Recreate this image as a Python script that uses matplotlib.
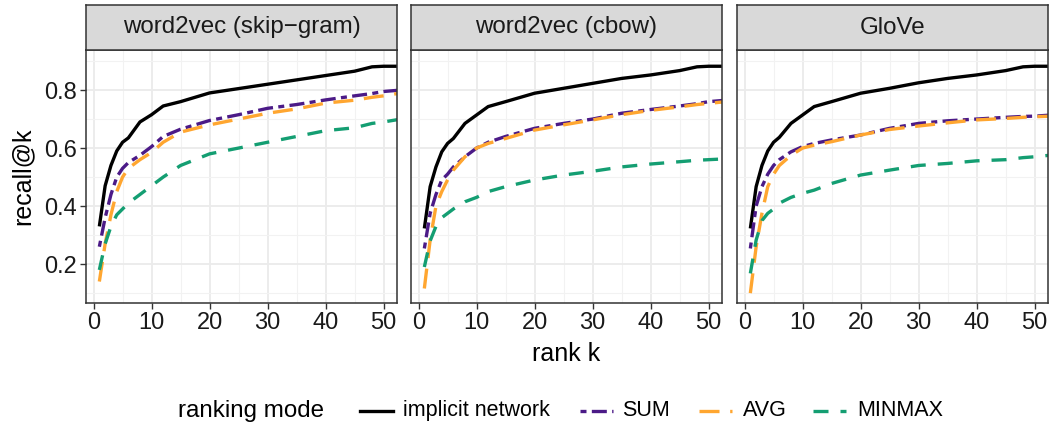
import numpy as np
import matplotlib
matplotlib.use("Agg")
import matplotlib.pyplot as plt
from matplotlib.lines import Line2D

plt.rcParams['font.family'] = ['Liberation Sans', 'DejaVu Sans']

panels = ["word2vec (skip\u2212gram)", "word2vec (cbow)", "GloVe"]
modes = ["implicit network", "SUM", "AVG", "MINMAX"]

k = [1, 2, 3, 4, 5, 6, 8, 10, 12, 15, 20, 25, 30, 35, 40, 45, 48, 50, 53]

# panel 1: word2vec (skip-gram)
sg_implicit = [0.33, 0.47, 0.54, 0.59, 0.62, 0.635, 0.69, 0.715, 0.745, 0.76, 0.79, 0.805, 0.82, 0.835, 0.85, 0.865, 0.88, 0.882, 0.882]
sg_sum      = [0.26, 0.36, 0.44, 0.50, 0.53, 0.55, 0.575, 0.605, 0.64, 0.665, 0.695, 0.715, 0.737, 0.75, 0.766, 0.78, 0.788, 0.795, 0.80]
sg_avg      = [0.14, 0.27, 0.37, 0.45, 0.50, 0.53, 0.56, 0.585, 0.62, 0.655, 0.68, 0.70, 0.72, 0.735, 0.755, 0.765, 0.775, 0.78, 0.79]
sg_minmax   = [0.18, 0.27, 0.33, 0.37, 0.39, 0.41, 0.44, 0.47, 0.50, 0.54, 0.58, 0.60, 0.62, 0.64, 0.66, 0.67, 0.685, 0.69, 0.70]

# panel 2: word2vec (cbow)
cb_implicit = [0.323, 0.467, 0.535, 0.587, 0.616, 0.633, 0.685, 0.714, 0.743, 0.76, 0.789, 0.806, 0.823, 0.84, 0.852, 0.867, 0.88, 0.882, 0.882]
cb_sum      = [0.254, 0.375, 0.44, 0.49, 0.51, 0.535, 0.57, 0.60, 0.62, 0.64, 0.668, 0.685, 0.70, 0.72, 0.733, 0.745, 0.753, 0.76, 0.765]
cb_avg      = [0.116, 0.283, 0.40, 0.45, 0.49, 0.524, 0.57, 0.60, 0.616, 0.633, 0.662, 0.68, 0.697, 0.715, 0.73, 0.742, 0.75, 0.754, 0.76]
cb_minmax   = [0.19, 0.28, 0.33, 0.36, 0.375, 0.39, 0.415, 0.43, 0.45, 0.467, 0.49, 0.507, 0.52, 0.535, 0.545, 0.553, 0.558, 0.56, 0.563]

# panel 3: GloVe
gl_implicit = [0.323, 0.467, 0.54, 0.59, 0.62, 0.637, 0.685, 0.714, 0.743, 0.76, 0.789, 0.806, 0.825, 0.84, 0.852, 0.867, 0.88, 0.882, 0.882]
gl_sum      = [0.254, 0.40, 0.467, 0.51, 0.54, 0.56, 0.587, 0.605, 0.616, 0.628, 0.645, 0.668, 0.685, 0.694, 0.70, 0.706, 0.709, 0.71, 0.714]
gl_avg      = [0.10, 0.26, 0.375, 0.467, 0.51, 0.54, 0.575, 0.60, 0.61, 0.622, 0.645, 0.664, 0.676, 0.687, 0.697, 0.702, 0.706, 0.708, 0.71]
gl_minmax   = [0.168, 0.283, 0.35, 0.375, 0.39, 0.41, 0.43, 0.444, 0.455, 0.478, 0.507, 0.524, 0.54, 0.547, 0.556, 0.56, 0.567, 0.57, 0.576]

data = [
    [sg_implicit, sg_sum, sg_avg, sg_minmax],
    [cb_implicit, cb_sum, cb_avg, cb_minmax],
    [gl_implicit, gl_sum, gl_avg, gl_minmax],
]

colors = ["#000000", "#4B1A87", "#FFA630", "#149E72"]
LW = 2.4
styles = ["-", (0, (1.8, 1.6, 4.5, 1.6)), (0, (6.0, 3.2)), (0, (4.5, 3.6))]

W, H = 1051, 425
fig = plt.figure(figsize=(W / 100, H / 100), dpi=100)

def px(x0, y0, x1, y1):
    return [x0 / W, 1 - y1 / H, (x1 - x0) / W, (y1 - y0) / H]

lefts = [86, 411, 737]
width = 311
border = "#333333"

for i, (name, series) in enumerate(zip(panels, data)):
    x0 = lefts[i]
    ax = fig.add_axes(px(x0, 50, x0 + width, 303))
    for vals, c, ls in zip(series, colors, styles):
        ax.plot(k, vals, color=c, lw=LW, linestyle=ls, solid_capstyle='butt',
                dash_capstyle='butt')
    ax.set_xlim(-1.3, 52.3)
    ax.set_ylim(0.066, 0.938)
    ax.set_xticks([0, 10, 20, 30, 40, 50])
    ax.set_xticks([5, 15, 25, 35, 45], minor=True)
    ax.set_yticks([0.2, 0.4, 0.6, 0.8])
    ax.set_yticks([0.1, 0.3, 0.5, 0.7, 0.9], minor=True)
    ax.grid(True, which='major', color='#EBEBEB', lw=1.3)
    ax.grid(True, which='minor', color='#F2F2F2', lw=0.8)
    ax.set_axisbelow(True)
    for s in ax.spines.values():
        s.set_color(border)
        s.set_linewidth(1.1)
    ax.tick_params(which='major', length=4, width=1.0, color=border,
                   labelsize=17, labelcolor='#1A1A1A', pad=2.5)
    ax.tick_params(which='minor', length=0)
    if i == 0:
        ax.set_yticklabels(["0.2", "0.4", "0.6", "0.8"])
    else:
        ax.tick_params(axis='y', which='both', length=0, labelleft=False)
    # strip
    sax = fig.add_axes(px(x0, 5, x0 + width, 50))
    sax.set_facecolor('#D9D9D9')
    sax.set_xticks([])
    sax.set_yticks([])
    for s in sax.spines.values():
        s.set_color(border)
        s.set_linewidth(1.1)
    sax.text(0.5, 0.5, name, ha='center', va='center', fontsize=17.4,
             color='#1A1A1A', transform=sax.transAxes)

fig.text(22.5 / W, 1 - 176 / H, "recall@k", rotation=90, ha='center', va='center', fontsize=18)
fig.text(566 / W, 1 - 354 / H, "rank k", ha='center', va='center', fontsize=18)

# legend, laid out in one row as in the reference
ly = 1 - 410.5 / H
fig.text(178 / W, ly, "ranking mode", ha='left', va='center', fontsize=17.4)
handle_x = [360, 580, 699, 813]
text_x = [403, 622, 743, 857]
for lab, c, ls, hx, tx in zip(modes, colors, styles, handle_x, text_x):
    fig.add_artist(Line2D([hx / W, (hx + 33) / W], [ly, ly], transform=fig.transFigure,
                          color=c, lw=LW, linestyle=ls, dash_capstyle='butt'))
    fig.text(tx / W, ly, lab, ha='left', va='center', fontsize=15.5)

fig.savefig("out.png", dpi=100)
